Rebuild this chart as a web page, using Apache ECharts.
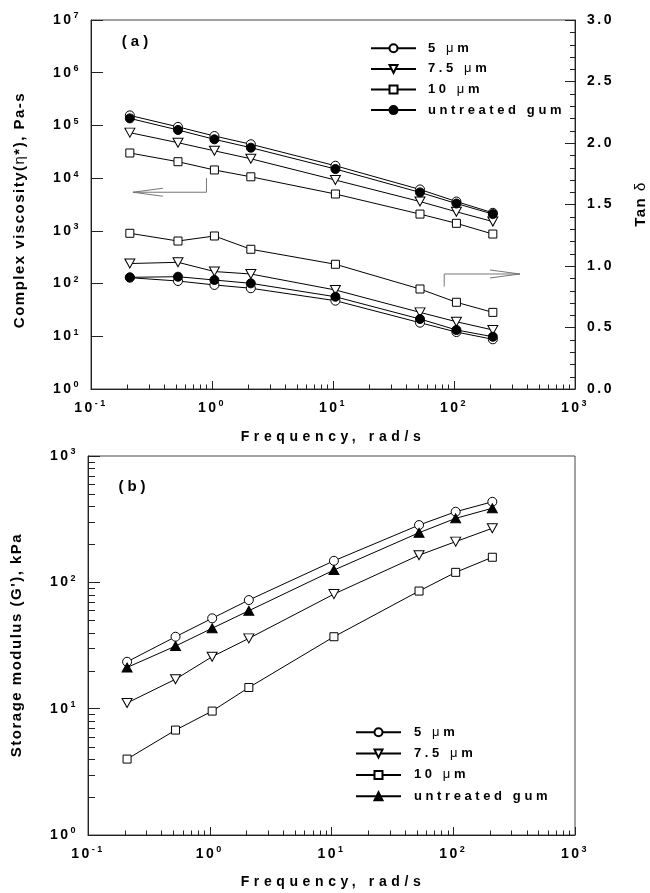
<!DOCTYPE html>
<html>
<head>
<meta charset="utf-8">
<script src="https://cdn.jsdelivr.net/npm/echarts@6/dist/echarts.min.js"></script>
<style>
  html, body { margin: 0; padding: 0; background: #fff; }
  #main { width: 650px; height: 893px; }
</style>
</head>
<body>
<div id="main"></div>
<script>
// ---- data -------------------------------------------------------------
// Oscillation frequencies, rad/s
const freq = [0.2094, 0.5236, 1.047, 2.094, 10.47, 52.36, 104.7, 209.4];
const sampleNames = ['5 μm', '7.5 μm', '10 μm', 'untreated gum'];

// (a) complex viscosity η*, Pa-s
const eta5  = [1.55e5, 9.4e4, 6.3e4, 4.4e4, 1.72e4, 6.1e3, 3.6e3, 2.2e3];
const eta75 = [7.3e4, 4.7e4, 3.3e4, 2.33e4, 9.2e3, 3.6e3, 2.3e3, 1.5e3];
const eta10 = [3.0e4, 2.05e4, 1.43e4, 1.06e4, 5.0e3, 2.08e3, 1.39e3, 870];
const etaU  = [1.36e5, 8.2e4, 5.45e4, 3.78e4, 1.49e4, 5.37e3, 3.3e3, 2.08e3];

// (a) loss tangent tan δ
const tan5  = [0.905, 0.878, 0.846, 0.819, 0.718, 0.539, 0.463, 0.404];
const tan75 = [1.02, 1.03, 0.955, 0.935, 0.805, 0.623, 0.547, 0.48];
const tan10 = [1.266, 1.203, 1.244, 1.136, 1.014, 0.813, 0.705, 0.623];
const tanU  = [0.908, 0.913, 0.886, 0.859, 0.75, 0.569, 0.48, 0.425];

// (b) storage modulus G', kPa
const g5  = [23.5, 37.1, 51.9, 72.4, 148, 284, 362, 434];
const g75 = [11.1, 17.1, 25.8, 36, 80.7, 164, 210, 268];
const g10 = [3.99, 6.77, 9.57, 14.7, 37.1, 85.3, 120, 158];
const gU  = [21.2, 31.3, 43.3, 59.6, 125, 247, 321, 386];

// Tick values
const tanTicks = [0, 0.5, 1.0, 1.5, 2.0, 2.5, 3.0];
const tanMinorStep = 0.1;
const minorMultiples = [2, 3, 4, 5, 6, 7, 8, 9];

// Direction arrows (data space): which curves belong to which axis
const arrowEta = { from: [0.9, 1.0e4], corner: [0.9, 5.4e3], tip: [0.222, 5.4e3] };
const arrowTan = { from: [83, 0.832], corner: [83, 0.935], tip: [351, 0.935] };

// ---- letter-spaced text ------------------------------------------------
// A quoted family token "track-N" in a font string gives N px tracking.
(function () {
  const P = CanvasRenderingContext2D.prototype;
  if (!('letterSpacing' in P)) return;
  const fill = P.fillText, measure = P.measureText;
  const track = f => { const m = /track-(\d+(?:\.\d+)?)/.exec(f); return m ? m[1] + 'px' : '0px'; };
  P.fillText = function (t, x, y, w) {
    this.letterSpacing = track(this.font);
    return w === undefined ? fill.call(this, t, x, y) : fill.call(this, t, x, y, w);
  };
  P.measureText = function (t) {
    this.letterSpacing = track(this.font);
    return measure.call(this, t);
  };
})();
const fam = ls => '"Liberation Sans", "track-' + ls + '", Arial, sans-serif';
const FONT_TICK = fam(2.5);
const FONT_XT = fam(4.6);
const FONT_YT = fam(1.5);
const FONT_LEG = fam(3.6);
const FONT_PANEL = fam(4);

// ---- helpers ----------------------------------------------------------
const pow10Label = v => '{b|10}{e|' + Math.round(Math.log10(v)) + '}';
const tickRich = {
  b: { fontSize: 14, fontWeight: 'bold', fontFamily: FONT_TICK, color: '#000' },
  e: { fontSize: 9, fontWeight: 'bold', fontFamily: FONT_TICK, color: '#000', padding: [0, 0, 8, 0] }
};
const muRich = s => s.split('μ').map(p => p ? '{t|' + p + '}' : '').join('{m|μ}');
const legendRich = {
  t: { fontSize: 13, fontWeight: 'bold', fontFamily: FONT_LEG, color: '#000' },
  m: { fontSize: 13, fontWeight: 'normal', fontFamily: FONT_LEG, color: '#000' }
};

const markerA = [
  { symbol: 'circle', fill: '#fff', size: 9, rotate: 0 },
  { symbol: 'triangle', fill: '#fff', size: [10, 9], rotate: 180 },
  { symbol: 'rect', fill: '#fff', size: 8, rotate: 0 },
  { symbol: 'circle', fill: '#000', size: 9, rotate: 0 }
];
const markerB = [
  markerA[0], markerA[1], markerA[2],
  { symbol: 'triangle', fill: '#000', size: [10, 9], rotate: 0 }
];

function lineSeries(name, vals, mk, xi, yi) {
  return {
    type: 'line', name: name, xAxisIndex: xi, yAxisIndex: yi,
    data: freq.map((f, i) => [f, vals[i]]),
    symbol: mk.symbol, symbolSize: mk.size, symbolRotate: mk.rotate,
    lineStyle: { color: '#000', width: 1 },
    itemStyle: { color: mk.fill, borderColor: '#000', borderWidth: 1 },
    emphasis: { disabled: true }, silent: true, animation: false
  };
}

// Panel (b) series carry their own names so the legend can show triangles
const gNames = sampleNames.map(n => "G' " + n);
const gLabel = {};
gNames.forEach((n, i) => { gLabel[n] = sampleNames[i]; });

const logX = (gi) => ({
  type: 'log', logBase: 10, gridIndex: gi, min: 0.1, max: 1000,
  axisLine: { show: true, onZero: false, lineStyle: { color: '#222', width: 1 } },
  axisTick: { show: true, inside: true, length: 8, lineStyle: { color: '#222' } },
  axisLabel: { formatter: pow10Label, rich: tickRich, margin: 9 },
  splitLine: { show: false }, minorTick: { show: false }
});

const option = {
  backgroundColor: '#fff',
  animation: false,
  grid: [
    { left: 91, top: 20, width: 484, height: 369, show: true, borderColor: '#444', borderWidth: 1, backgroundColor: 'transparent' },
    { left: 88, top: 456, width: 487, height: 379, show: true, borderColor: '#444', borderWidth: 1, backgroundColor: 'transparent' }
  ],
  xAxis: [logX(0), logX(1)],
  yAxis: [
    {
      type: 'log', logBase: 10, gridIndex: 0, min: 1, max: 1e7,
      axisLine: { show: true, lineStyle: { color: '#222', width: 1 } },
      axisTick: { show: true, inside: true, length: 12, lineStyle: { color: '#222' } },
      axisLabel: { formatter: pow10Label, rich: tickRich, margin: 10 },
      splitLine: { show: false }
    },
    {
      type: 'value', gridIndex: 0, position: 'right', min: tanTicks[0], max: tanTicks[tanTicks.length - 1], interval: 0.5,
      axisLine: { show: true, lineStyle: { color: '#222', width: 1 } },
      axisTick: { show: true, inside: true, length: 10, lineStyle: { color: '#222' } },
      minorTick: { show: false },
      axisLabel: { formatter: v => v.toFixed(1), margin: 12, fontSize: 14, fontWeight: 'bold', fontFamily: FONT_TICK, color: '#000' },
      splitLine: { show: false }
    },
    {
      type: 'log', logBase: 10, gridIndex: 1, min: 1, max: 1000,
      axisLine: { show: true, lineStyle: { color: '#222', width: 1 } },
      axisTick: { show: true, inside: true, length: 12, lineStyle: { color: '#222' } },
      axisLabel: { formatter: pow10Label, rich: tickRich, margin: 10 },
      splitLine: { show: false }
    }
  ],
  legend: [
    {
      orient: 'vertical', left: 370, top: 40, padding: 0,
      itemWidth: 45, itemHeight: 10, itemGap: 4,
      data: sampleNames, selectedMode: false,
      formatter: n => muRich(n),
      textStyle: { lineHeight: 16, padding: [0, 0, 0, 7], rich: legendRich }
    },
    {
      orient: 'vertical', left: 355, top: 724, padding: 0,
      itemWidth: 45, itemHeight: 10, itemGap: 4.7,
      data: gNames, selectedMode: false,
      formatter: n => muRich(gLabel[n]),
      textStyle: { lineHeight: 16, padding: [0, 0, 0, 8], rich: legendRich }
    }
  ],
  series: [
    lineSeries(sampleNames[0], eta5, markerA[0], 0, 0),
    lineSeries(sampleNames[1], eta75, markerA[1], 0, 0),
    lineSeries(sampleNames[2], eta10, markerA[2], 0, 0),
    lineSeries(sampleNames[3], etaU, markerA[3], 0, 0),
    lineSeries(sampleNames[0], tan5, markerA[0], 0, 1),
    lineSeries(sampleNames[1], tan75, markerA[1], 0, 1),
    lineSeries(sampleNames[2], tan10, markerA[2], 0, 1),
    lineSeries(sampleNames[3], tanU, markerA[3], 0, 1),
    lineSeries(gNames[0], g5, markerB[0], 1, 2),
    lineSeries(gNames[1], g75, markerB[1], 1, 2),
    lineSeries(gNames[2], g10, markerB[2], 1, 2),
    lineSeries(gNames[3], gU, markerB[3], 1, 2)
  ]
};

const chart = echarts.init(document.getElementById('main'), null, { renderer: 'canvas' });
chart.setOption(option);

// ---- minor ticks, titles and arrows -----------------------------------
const gfx = [];
const tickStyle = { stroke: '#222', lineWidth: 1 };
const tickLine = (x1, y1, x2, y2) => ({ type: 'line', shape: { x1: x1, y1: y1, x2: x2, y2: y2 }, style: tickStyle, silent: true });

// log x axes: ticks at 2..9 × 10^n, pointing up from the bottom edge
function hMinor(xi, yi, yBottom, len) {
  const y0 = chart.convertToPixel({ yAxisIndex: yi }, yBottom);
  [-1, 0, 1, 2].forEach(n => minorMultiples.forEach(m => {
    const x = Math.round(chart.convertToPixel({ xAxisIndex: xi }, m * Math.pow(10, n))) + 0.5;
    gfx.push(tickLine(x, y0, x, y0 - len));
  }));
}
// log y axis of (b): ticks at 2..9 × 10^n, pointing right from the left edge
function vMinor(xi, yi, xLeft, decades, len) {
  const x0 = chart.convertToPixel({ xAxisIndex: xi }, xLeft);
  decades.forEach(n => minorMultiples.forEach(m => {
    const y = Math.round(chart.convertToPixel({ yAxisIndex: yi }, m * Math.pow(10, n))) + 0.5;
    gfx.push(tickLine(x0, y, x0 + len, y));
  }));
}
hMinor(0, 0, 1, 4.5);
hMinor(1, 2, 1, 4.5);
vMinor(1, 2, 0.1, [0, 1, 2], 7);

// tan δ axis: minor ticks every 0.1, pointing left from the right edge
(function () {
  const xr = chart.convertToPixel({ xAxisIndex: 0 }, 1000);
  const lo = tanTicks[0], hi = tanTicks[tanTicks.length - 1];
  for (let k = 1; lo + k * tanMinorStep < hi - 1e-9; k++) {
    const v = lo + k * tanMinorStep;
    if (Math.abs(v / 0.5 - Math.round(v / 0.5)) < 1e-6) continue;
    const y = Math.round(chart.convertToPixel({ yAxisIndex: 1 }, v)) + 0.5;
    gfx.push(tickLine(xr, y, xr - 5, y));
  }
})();

function arrow(a, yi, dir) {
  const q = { xAxisIndex: 0, yAxisIndex: yi };
  const p0 = chart.convertToPixel(q, a.from);
  const p1 = chart.convertToPixel(q, a.corner);
  const p2 = chart.convertToPixel(q, a.tip);
  const st = { stroke: '#777', lineWidth: 1, fill: null };
  gfx.push({ type: 'polyline', shape: { points: [p0, p1, p2] }, style: st, silent: true });
  gfx.push({ type: 'polyline', shape: { points: [[p2[0] + dir * 30, p2[1] - 4], p2, [p2[0] + dir * 30, p2[1] + 4]] }, style: st, silent: true });
}
arrow(arrowEta, 0, 1);
arrow(arrowTan, 1, -1);

const title = (text, x, y, family, size, rot, rich) => ({
  type: 'text', x: x, y: y, rotation: rot || 0, silent: true,
  style: {
    text: text, align: 'center', verticalAlign: 'middle', fill: '#000',
    font: 'bold ' + size + 'px ' + family, rich: rich
  }
});
const yRich = {
  t: { fontSize: 15, fontWeight: 'bold', fontFamily: FONT_YT, fill: '#000' },
  g: { fontSize: 15, fontWeight: 'normal', fontFamily: FONT_YT, fill: '#000' }
};
gfx.push(title('(a)', 137, 42, FONT_PANEL, 15));
gfx.push(title('(b)', 134, 487, FONT_PANEL, 15));
gfx.push(title('Frequency, rad/s', 333, 437, FONT_XT, 14));
gfx.push(title('Frequency, rad/s', 333, 882, FONT_XT, 14));
gfx.push(title('{t|Complex viscosity(}{g|η}{t|*), Pa-s}', 20, 210, FONT_YT, 15, Math.PI / 2, yRich));
gfx.push(title("{t|Storage modulus (G'), kPa}", 17, 645, FONT_YT, 15, Math.PI / 2, yRich));
gfx.push(title('{t|Tan }{g|δ}', 641, 204, FONT_YT, 15, Math.PI / 2, yRich));

chart.setOption({ graphic: gfx });
</script>
</body>
</html>
